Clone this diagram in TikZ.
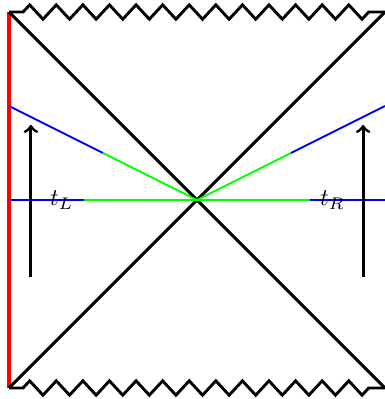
\documentclass[tikz,border=0pt]{standalone}
\usepackage{tikz}
\usetikzlibrary{decorations.pathmorphing}

\tikzset{
 sing/.style={very thick,decorate,decoration={zigzag,segment length=0.389cm,
   amplitude=0.105cm,pre length=0.205cm,post length=0.14cm}},
 slice/.style={thick},
}

\begin{document}
\begin{tikzpicture}[>=to]
\useasboundingbox (-2.882,-2.911) rectangle (2.75,2.926);
\coordinate (TL) at (-2.75,2.75);
\coordinate (TR) at (2.75,2.75);
\coordinate (BL) at (-2.75,-2.75);
\coordinate (BR) at (2.75,-2.75);
\coordinate (O) at (0,0);
% boundary and horizons
\draw[red,line width=1.4pt] (BL) -- (TL);
\draw[very thick] (TL) -- (BR) (BL) -- (TR);
\draw[sing] (TL) -- (TR);
\draw[sing] (BL) -- (BR);
% slices
\draw[slice,blue] (-2.75,0) -- (-1.65,0);
\draw[slice,green] (-1.65,0) -- (O) -- (1.65,0);
\draw[slice,blue] (1.65,0) -- (2.75,0);
\draw[slice,blue] (-2.75,1.375) -- (-1.375,0.6875);
\draw[slice,green] (-1.375,0.6875) -- (O) -- (1.375,0.6875);
\draw[slice,blue] (1.375,0.6875) -- (2.75,1.375);
% time directions
\coordinate (aL0) at (-2.43,-1.12);
\coordinate (aL1) at (-2.43,1.1);
\coordinate (aR0) at (2.43,-1.12);
\coordinate (aR1) at (2.43,1.1);
\draw[->,very thick] (aL0) -- (aL1);
\draw[->,very thick] (aR0) -- (aR1);
\node (tL) at (-1.98,0) {$t_L$};
\node (tR) at (1.98,0) {$t_R$};
\end{tikzpicture}
\end{document}
